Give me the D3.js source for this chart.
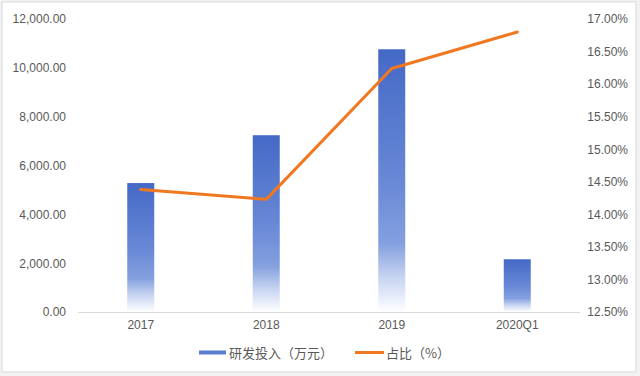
<!DOCTYPE html>
<html><head><meta charset="utf-8">
<script src="https://cdn.jsdelivr.net/npm/d3@7/dist/d3.min.js"></script>
<style>
html,body{margin:0;padding:0;background:#fff;}
svg{display:block;font-family:"Noto Sans CJK SC","Noto Sans",sans-serif;}
</style></head>
<body>
<svg id="c" width="640" height="376"></svg>
<script>
const categories = ["2017", "2018", "2019", "2020Q1"];
const investment = [5280, 7240, 10760, 2160];
const ratio = [14.38, 14.23, 16.24, 16.80];
const leftTicks = [0, 2000, 4000, 6000, 8000, 10000, 12000];
const rightTicks = [12.5, 13, 13.5, 14, 14.5, 15, 15.5, 16, 16.5, 17];
const legendLabels = ["研发投入（万元）", "占比（%）"];

const svg = d3.select("#c");
const x0 = 78, x1 = 580, yTop = 19, yBot = 312;

svg.append("rect").attr("x", 0).attr("y", 0).attr("width", 640).attr("height", 376).attr("fill", "#f2f2f2");
svg.append("rect").attr("x", 2).attr("y", 2).attr("width", 634).attr("height", 370)
  .attr("fill", "#fff").attr("stroke", "#d9d9d9").attr("stroke-width", 1);

const defs = svg.append("defs");
const g = defs.append("linearGradient").attr("id", "barGrad")
  .attr("x1", 0).attr("y1", 0).attr("x2", 0).attr("y2", 1);
g.append("stop").attr("offset", 0).attr("stop-color", "#4469c6");
g.append("stop").attr("offset", 0.5).attr("stop-color", "#6888d6");
g.append("stop").attr("offset", 0.74).attr("stop-color", "#84a0df");
g.append("stop").attr("offset", 0.86).attr("stop-color", "#c3d1f0");
g.append("stop").attr("offset", 1).attr("stop-color", "#ffffff");

const x = d3.scaleBand().domain(categories).range([x0, x1]).paddingInner(0).paddingOuter(0);
const yL = d3.scaleLinear().domain([0, 12000]).range([yBot, yTop]);
const yR = d3.scaleLinear().domain([12.5, 17]).range([yBot, yTop]);

const fmtL = d3.format(",.2f");
const fmtR = d => d.toFixed(2) + "%";
const tickFont = "Liberation Sans, Arial, sans-serif";

const axL = d3.axisLeft(yL).tickValues(leftTicks).tickFormat(fmtL).tickSize(0).tickPadding(0);
const gl = svg.append("g").attr("transform", `translate(66,0)`).call(axL);
gl.select(".domain").remove();
gl.selectAll("text").attr("fill", "#595959").style("font-size", "12px").style("font-family", tickFont);

const axR = d3.axisRight(yR).tickValues(rightTicks).tickFormat(fmtR).tickSize(0).tickPadding(0);
const gr = svg.append("g").attr("transform", `translate(628,0)`).call(axR);
gr.select(".domain").remove();
gr.selectAll("text").attr("fill", "#595959").attr("text-anchor", "end").style("font-size", "12px").style("font-family", tickFont);

svg.append("line").attr("x1", x0).attr("x2", x1).attr("y1", yBot + 0.5).attr("y2", yBot + 0.5)
  .attr("stroke", "#d9d9d9").attr("stroke-width", 1);

const axB = d3.axisBottom(x).tickSize(0).tickPadding(0);
const gb = svg.append("g").attr("transform", `translate(0,${yBot + 8})`).call(axB);
gb.select(".domain").remove();
gb.selectAll("text").attr("fill", "#595959").style("font-size", "12px").style("font-family", tickFont);

const bw = 27;
svg.selectAll("rect.bar").data(investment).join("rect").attr("class", "bar")
  .attr("x", (d, i) => x(categories[i]) + x.bandwidth() / 2 - bw / 2)
  .attr("width", bw)
  .attr("y", d => yL(d))
  .attr("height", d => yBot - yL(d))
  .attr("fill", "url(#barGrad)");

const line = d3.line().x((d, i) => x(categories[i]) + x.bandwidth() / 2).y(d => yR(d));
svg.append("path").datum(ratio).attr("d", line).attr("fill", "none")
  .attr("stroke", "#f07820").attr("stroke-width", 3).attr("stroke-linejoin", "round").attr("stroke-linecap", "round");

const lg = svg.append("g");
lg.append("line").attr("x1", 199).attr("x2", 226).attr("y1", 352.5).attr("y2", 352.5)
  .attr("stroke", "#5b7fd0").attr("stroke-width", 4);
lg.append("text").attr("x", 229).attr("y", 357.5).text(legendLabels[0])
  .attr("fill", "#595959").style("font-size", "13px");
lg.append("line").attr("x1", 355).attr("x2", 384).attr("y1", 352.5).attr("y2", 352.5)
  .attr("stroke", "#f07820").attr("stroke-width", 3);
lg.append("text").attr("x", 386).attr("y", 357.5).text(legendLabels[1])
  .attr("fill", "#595959").style("font-size", "13px");
</script>
</body></html>
